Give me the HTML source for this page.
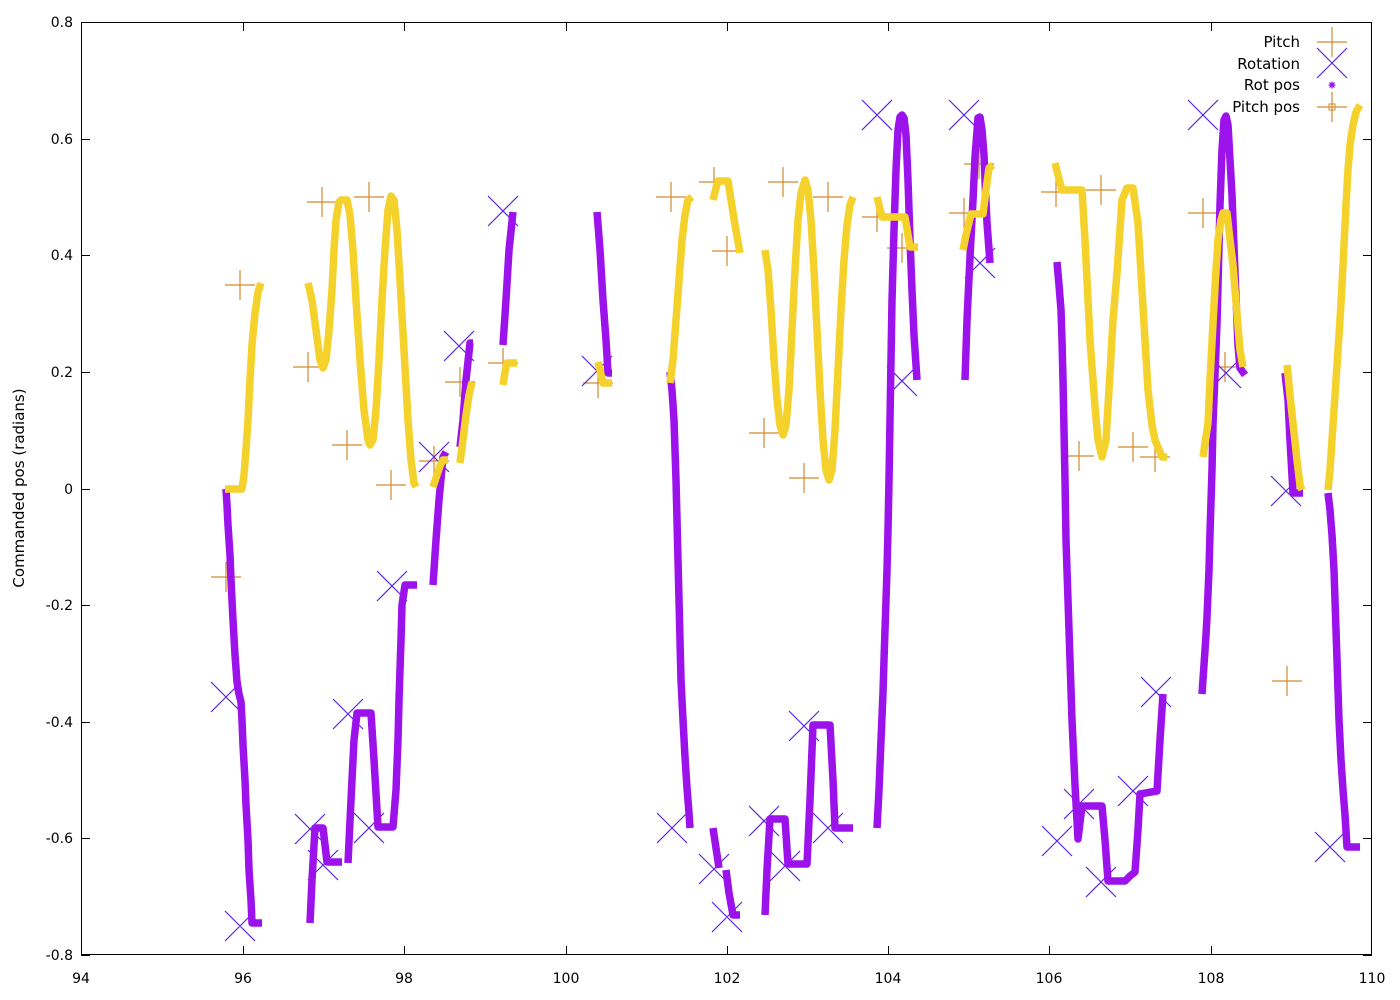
<!DOCTYPE html>
<html><head><meta charset="utf-8"><style>
html,body{margin:0;padding:0;background:#fff;}
svg{display:block;}
text{font-family:"DejaVu Sans","Liberation Sans",sans-serif;fill:#000;}
</style></head><body>
<svg width="1400" height="1000" viewBox="0 0 1400 1000" xmlns="http://www.w3.org/2000/svg">
<rect width="1400" height="1000" fill="#fff"/>
<!-- axes box & ticks -->
<g stroke="#000" stroke-width="1" shape-rendering="crispEdges" fill="none">
<rect x="81.5" y="22.5" width="1290" height="932"/>
<path d="M81 955.5h9M1372 955.5h-9M81 838.5h9M1372 838.5h-9M81 722.5h9M1372 722.5h-9M81 605.5h9M1372 605.5h-9M81 489.5h9M1372 489.5h-9M81 372.5h9M1372 372.5h-9M81 255.5h9M1372 255.5h-9M81 139.5h9M1372 139.5h-9M81 22.5h9M1372 22.5h-9"/>
<path d="M81.5 955v-9M81.5 22v9M243.5 955v-9M243.5 22v9M404.5 955v-9M404.5 22v9M566.5 955v-9M566.5 22v9M727.5 955v-9M727.5 22v9M888.5 955v-9M888.5 22v9M1049.5 955v-9M1049.5 22v9M1211.5 955v-9M1211.5 22v9M1371.5 955v-9M1371.5 22v9"/>
</g>
<g font-size="14" text-anchor="end">
<text x="73" y="27">0.8</text>
<text x="73" y="144">0.6</text>
<text x="73" y="260">0.4</text>
<text x="73" y="377">0.2</text>
<text x="73" y="494">0</text>
<text x="73" y="610">-0.2</text>
<text x="73" y="727">-0.4</text>
<text x="73" y="843">-0.6</text>
<text x="73" y="960">-0.8</text>
</g>
<g font-size="14" text-anchor="middle">
<text x="81" y="983">94</text>
<text x="243" y="983">96</text>
<text x="404" y="983">98</text>
<text x="566" y="983">100</text>
<text x="727" y="983">102</text>
<text x="888" y="983">104</text>
<text x="1049" y="983">106</text>
<text x="1211" y="983">108</text>
<text x="1372" y="983">110</text>
</g>
<text font-size="15" text-anchor="middle" transform="translate(24,488) rotate(-90)">Commanded pos (radians)</text>

<!-- Pitch markers (+) -->
<g stroke="#d3892f" stroke-width="1.2" fill="none">
<path d="M225 285h30M240 270v30 M211 577h30M226 562v30 M293 367h30M308 352v30 M307 202h30M322 187v30 M354 197h30M369 182v30 M332 445h30M347 430v30 M376 485h30M391 470v30 M419 461h30M434 446v30 M445 382h30M460 367v30 M488 363h30M503 348v30 M583 383h30M598 368v30 M656 197h30M671 182v30 M699 182h30M714 167v30 M712 251h30M727 236v30 M768 182h30M783 167v30 M813 197h30M828 182v30 M749 433h30M764 418v30 M789 478h30M804 463v30 M862 217h30M877 202v30 M887 248h30M902 233v30 M949 213h30M964 198v30 M964 164h30M979 149v30 M1041 192h30M1056 177v30 M1086 190h30M1101 175v30 M1064 456h30M1079 441v30 M1118 447h30M1133 432v30 M1140 457h30M1155 442v30 M1188 213h30M1203 198v30 M1210 367h30M1225 352v30 M1272 681h30M1287 666v30"/>
</g>
<!-- Rotation markers (X) -->
<g stroke="#5b24e0" stroke-width="1.2" fill="none">
<path d="M211 682l30 30M241 682l-30 30 M225 911l30 30M255 911l-30 30 M295 814l30 30M325 814l-30 30 M308 850l30 30M338 850l-30 30 M333 699l30 30M363 699l-30 30 M354 813l30 30M384 813l-30 30 M377 571l30 30M407 571l-30 30 M419 442l30 30M449 442l-30 30 M444 331l30 30M474 331l-30 30 M488 196l30 30M518 196l-30 30 M582 356l30 30M612 356l-30 30 M657 813l30 30M687 813l-30 30 M699 854l30 30M729 854l-30 30 M712 902l30 30M742 902l-30 30 M749 806l30 30M779 806l-30 30 M770 851l30 30M800 851l-30 30 M789 711l30 30M819 711l-30 30 M813 813l30 30M843 813l-30 30 M887 366l30 30M917 366l-30 30 M862 100l30 30M892 100l-30 30 M949 100l30 30M979 100l-30 30 M965 248l30 30M995 248l-30 30 M1042 826l30 30M1072 826l-30 30 M1064 789l30 30M1094 789l-30 30 M1086 867l30 30M1116 867l-30 30 M1118 776l30 30M1148 776l-30 30 M1141 677l30 30M1171 677l-30 30 M1211 358l30 30M1241 358l-30 30 M1188 100l30 30M1218 100l-30 30 M1271 476l30 30M1301 476l-30 30 M1315 832l30 30M1345 832l-30 30"/>
</g>
<!-- Rot pos (purple) -->
<g stroke="#9c12eb" stroke-width="7.5" fill="none" stroke-linejoin="round" stroke-linecap="butt">
<polyline points="226,489 227,505 228,525 230,555 231,580 233,620 235,655 237,682 239,694 241,702 242,720 243,745 245,780 246,805 248,840 249,870 251,900 252,923 262,923"/>
<polyline points="310,923 312,880 315,828 323,828 327,862 342,862"/>
<polyline points="348,863 351,800 354,740 357,713 371,713 374,760 378,827 393,827 396,790 398,740 399,700 401,640 402,605 405,585 417,585"/>
<polyline points="433,585 436,540 439,500 443,457 446,452"/>
<polyline points="460,447 463,420 466,380 470,343 473,343"/>
<polyline points="503,345 506,300 509,250 513,212"/>
<polyline points="597,212 600,250 603,300 606,340 608,373 612,373"/>
<polyline points="670,372 672,390 674,420 675,450 676,480 677,520 678,560 679,600 680,640 681,680 683,720 685,757 687,788 689,813 690,828"/>
<polyline points="713,828 716,848 719,868"/>
<polyline points="726,870 729,893 733,915 740,915"/>
<polyline points="765,915 767,870 770,819 785,819 788,864 807,864 810,800 813,725 830,725 833,780 835,828 853,828"/>
<polyline points="877,828 879,790 881,740 883,693 884,660 885,630 886,600 887,570 888,530 889,480 890,420 891,360 892,300 894,230 896,170 898,130 900,117 902,115 904,118 906,135 908,180 910,240 912,290 914,335 917,380"/>
<polyline points="965,380 967,320 970,257 973,200 975,157 978,118 980,117 982,130 984,155 985,180 987,223 990,263"/>
<polyline points="1057,262 1059,285 1061,310 1062,340 1063,380 1064,430 1065,480 1066,540 1068,600 1070,660 1072,720 1075,785 1078,839 1082,806 1102,806 1105,840 1108,881 1125,881 1130,876 1135,872 1138,830 1140,794 1157,791 1160,740 1163,694"/>
<polyline points="1202,694 1204,665 1206,635 1207,617 1209,570 1210,533 1212,470 1213,423 1215,374 1217,323 1218,285 1219,245 1220,205 1222,150 1224,120 1226,116 1228,125 1230,160 1232,195 1235,273 1238,345 1240,368 1245,375"/>
<polyline points="1285,373 1288,400 1290,440 1293,493 1303,493"/>
<polyline points="1328,493 1330,510 1332,535 1334,570 1335,600 1336,630 1337,660 1338,690 1339,720 1341,760 1343,790 1345,815 1347,847 1360,847"/>
</g>
<!-- Pitch pos (yellow) -->
<g stroke="#f4d22b" stroke-width="7.5" fill="none" stroke-linejoin="round" stroke-linecap="butt">
<polyline points="225,489 242,489 244,475 246,450 248,420 250,380 252,345 255,313 258,292 261,283"/>
<polyline points="308,283 312,300 316,330 320,360 323,368 326,360 329,330 332,290 334,250 336,220 339,202 341,200 347,200 350,215 353,250 356,300 360,360 364,410 368,440 370,445 373,440 376,410 379,360 382,300 385,250 388,210 391,196 394,200 397,230 400,280 404,350 408,420 411,460 414,483 416,487"/>
<polyline points="433,487 436,478 440,466 443,460 448,460"/>
<polyline points="460,463 463,440 466,415 469,395 472,382"/>
<polyline points="503,385 505,372 507,363 517,363"/>
<polyline points="598,362 600,370 603,383 612,383"/>
<polyline points="670,383 673,360 676,320 679,280 682,240 685,215 688,200 692,197"/>
<polyline points="713,200 716,188 718,181 728,181 731,200 735,225 740,253"/>
<polyline points="765,250 768,270 771,310 774,360 777,400 780,425 783,435 786,425 789,390 792,330 795,270 798,220 801,193 805,180 808,190 811,220 814,270 817,330 820,390 823,440 826,470 829,480 832,470 835,430 838,370 841,310 844,260 847,225 850,205 853,197"/>
<polyline points="877,197 882,217 905,217 910,247 918,247"/>
<polyline points="963,250 966,235 971,214 983,214 986,190 989,168 993,165"/>
<polyline points="1055,163 1058,175 1062,190 1082,190 1085,240 1088,300 1090,340 1095,407 1098,440 1102,457 1106,440 1110,373 1113,320 1117,273 1122,200 1127,188 1133,188 1138,223 1143,307 1148,390 1152,425 1155,440 1162,457 1167,457"/>
<polyline points="1203,457 1208,423 1210,380 1213,323 1216,270 1218,240 1221,220 1223,213 1227,213 1230,240 1233,265 1235,290 1240,350 1243,367"/>
<polyline points="1287,365 1290,395 1293,423 1297,460 1300,485 1302,490"/>
<polyline points="1328,490 1330,470 1332,440 1334,410 1336,380 1338,350 1340,320 1342,285 1344,245 1346,205 1348,170 1350,145 1353,125 1356,112 1360,105"/>
</g>

<!-- Legend -->
<g font-size="15" text-anchor="end">
<text x="1300" y="47">Pitch</text>
<text x="1300" y="69">Rotation</text>
<text x="1300" y="90">Rot pos</text>
<text x="1300" y="112">Pitch pos</text>
</g>
<path d="M1317 42h30M1332 27v30" stroke="#d3892f" stroke-width="1.2" fill="none"/>
<path d="M1317 48l30 30M1347 48l-30 30" stroke="#5b24e0" stroke-width="1.2" fill="none"/>
<path d="M1328.5 85h7M1332 81.5v7M1329.5 82.5l5 5M1334.5 82.5l-5 5" stroke="#9c12eb" stroke-width="1.3" fill="none"/>
<path d="M1317 107h30M1332 92v30" stroke="#d3892f" stroke-width="1.2" fill="none"/>
<rect x="1329" y="104" width="6" height="6" stroke="#d3892f" stroke-width="1" fill="none"/>
</svg>
</body></html>
